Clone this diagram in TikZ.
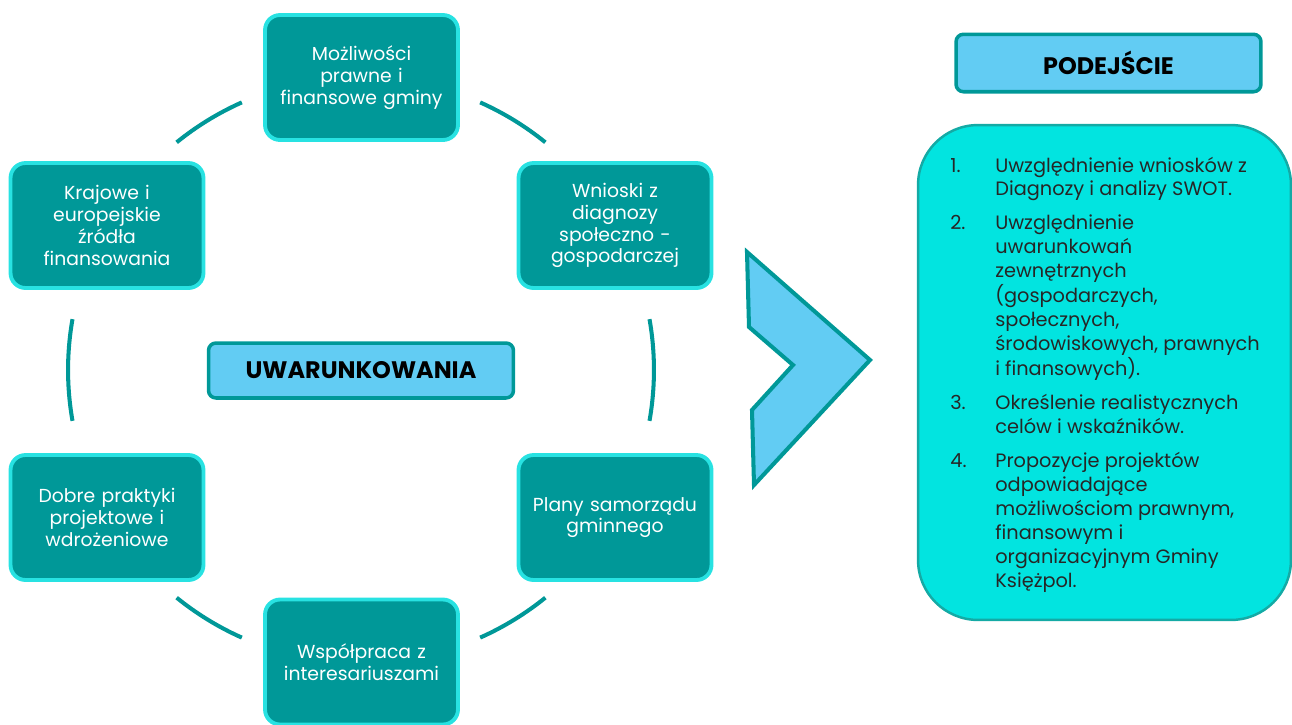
\documentclass[tikz,border=0pt]{standalone}
\usepackage{fontspec}
\setmainfont{Poppins}
\usepackage{array}
\usetikzlibrary{positioning, calc}

\definecolor{tealbox}{RGB}{0,152,152}
\definecolor{cyanrim}{RGB}{40,226,226}
\definecolor{skyfill}{RGB}{98,204,243}
\definecolor{aquafill}{RGB}{2,228,224}
\definecolor{aquarim}{RGB}{20,170,165}

\begin{document}
\begin{tikzpicture}[x=0.02cm, y=-0.02cm,
    factor/.style={draw=cyanrim, line width=2.2pt, fill=tealbox, rounded corners=0.3cm,
      minimum width=3.86cm, minimum height=2.5cm, text width=3.6cm, align=center,
      text=white, font=\fontsize{10.7}{12.4}\selectfont},
    headbox/.style={draw=tealbox, line width=2pt, fill=skyfill, rounded corners=0.15cm,
      font=\fontsize{13.6}{15}\selectfont\bfseries},
    arcline/.style={draw=tealbox, line width=2.3pt},
    chevron/.style={draw=tealbox, line width=2.3pt, fill=skyfill, line join=miter}]
  \useasboundingbox (0,0) rectangle (1292,724);

  % circle of factors
  \coordinate (hub) at (361,370);
  \node[factor] (legal) at (361.5,77.5) {Możliwości\\prawne i\\finansowe gminy};
  \node[factor] (diag) at (615,225.5) {Wnioski z\\diagnozy\\społeczno -\\gospodarczej};
  \node[factor] (funds) at (107,225.5) {Krajowe i\\europejskie\\źródła\\finansowania};
  \node[factor] (practice) at (107,517.5) {Dobre praktyki\\projektowe i\\wdrożeniowe};
  \node[factor] (plans) at (615,517.5) {Plany samorządu\\gminnego};
  \node[factor] (stake) at (361.5,662) {Współpraca z\\interesariuszami};
  \node[headbox, minimum width=6.1cm, minimum height=1.1cm] (cond) at (361,370.5) {UWARUNKOWANIA};

  \foreach \a/\b in {114/129, 51/66, -10/10, -66/-51, 231/246, 170/190}
    \draw[arcline] ($(hub)+(\a:5.86cm)$) arc[start angle=\a, end angle=\b, radius=5.86cm];

  \draw[chevron] (747,252) -- (870,360) -- (754,485) -- (752,410) -- (793,365) -- (749,327) -- cycle;

  % approach
  \node[headbox, minimum width=6.1cm, minimum height=1.15cm] (appr) at (1108.5,63) {PODEJŚCIE};
  \node[draw=aquarim, line width=1.4pt, fill=aquafill, rounded corners=1.2cm,
    minimum width=7.46cm, minimum height=9.9cm, inner sep=0pt] (steps) at (1104.5,372.5) {};
  \node[anchor=north west, inner sep=0pt, text=black!85,
    font=\fontsize{11}{13.6}\selectfont] (list) at (950,155) {%
    \begin{tabular}{@{}p{0.9cm}@{}l@{}}
      1. & Uwzględnienie wniosków z\\
         & Diagnozy i analizy SWOT.\\[0.2cm]
      2. & Uwzględnienie\\
         & uwarunkowań\\
         & zewnętrznych\\
         & (gospodarczych,\\
         & społecznych,\\
         & środowiskowych, prawnych\\
         & i finansowych).\\[0.2cm]
      3. & Określenie realistycznych\\
         & celów i wskaźników.\\[0.2cm]
      4. & Propozycje projektów\\
         & odpowiadające\\
         & możliwościom prawnym,\\
         & finansowym i\\
         & organizacyjnym Gminy\\
         & Księżpol.
    \end{tabular}};
\end{tikzpicture}
\end{document}
